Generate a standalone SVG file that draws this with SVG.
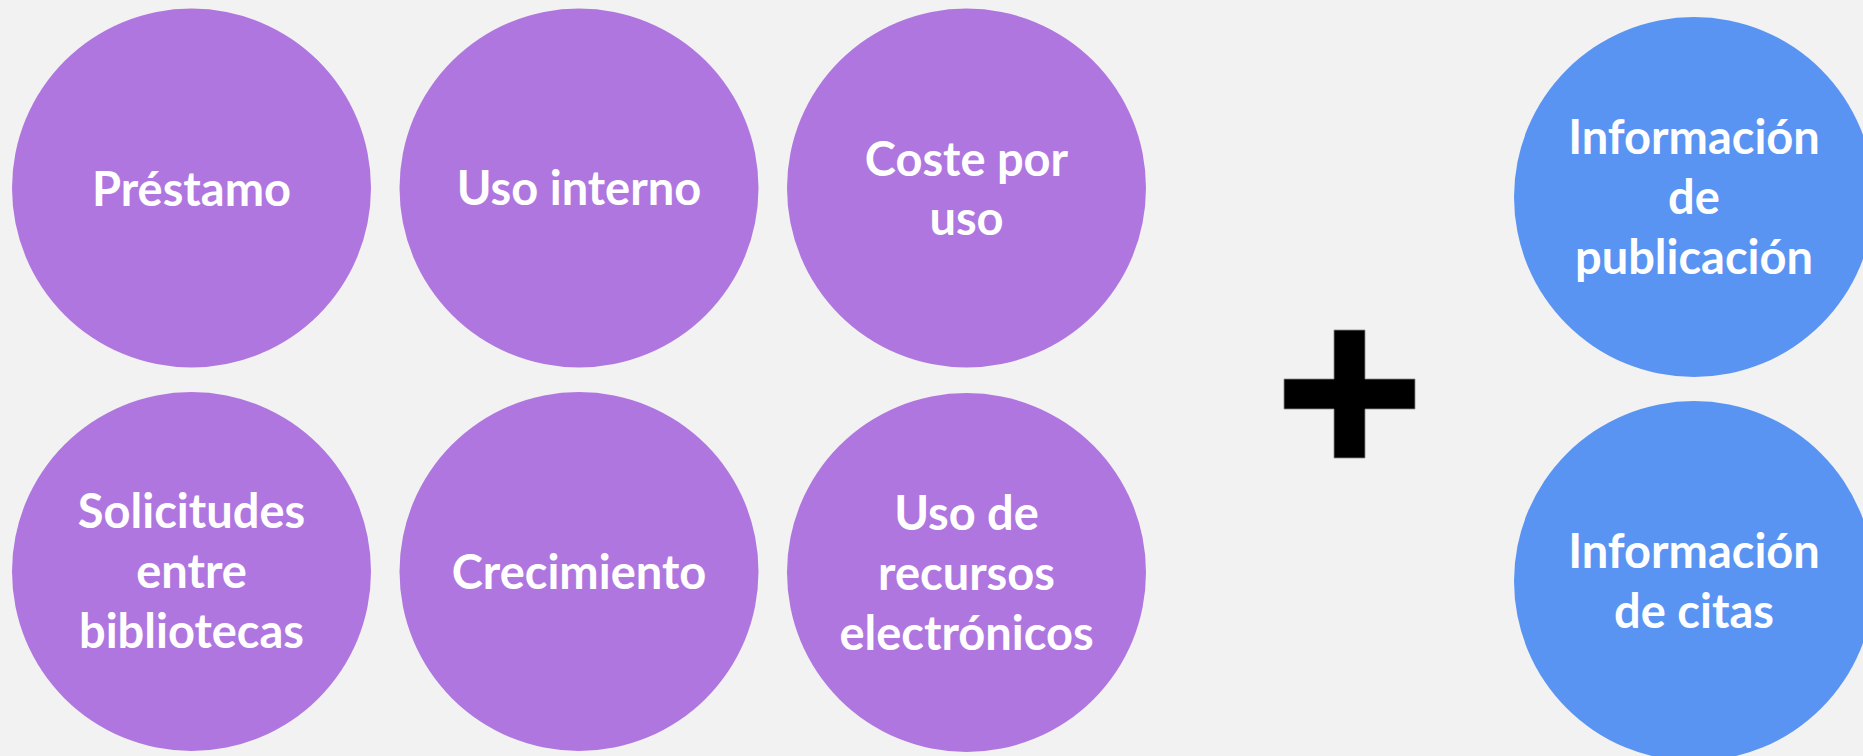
<svg xmlns="http://www.w3.org/2000/svg" width="1863" height="756" viewBox="0 0 1863 756">
<style>
.p{fill:#B076E0}
.b{fill:#5A94F3}
text{font-family:Lato,"Open Sans","Liberation Sans",sans-serif;font-weight:bold;font-size:47px;fill:#FFFFFF;text-anchor:middle}
</style>
<rect x="0" y="0" width="1863" height="756" fill="#F2F2F2"/>
<g id="prestamo"><circle class="p" cx="191.5" cy="188" r="179.5"/><text x="191.5" y="206">Préstamo</text></g>
<g id="uso-interno"><circle class="p" cx="579" cy="188" r="179.5"/><text x="579" y="205">Uso interno</text></g>
<g id="coste-por-uso"><circle class="p" cx="966.5" cy="188" r="179.5"/><text x="966.5" y="176">Coste por</text><text x="966.5" y="235">uso</text></g>
<g id="solicitudes"><circle class="p" cx="191.5" cy="571.5" r="179.5"/><text x="191.5" y="528">Solicitudes</text><text x="191.5" y="588">entre</text><text x="191.5" y="648">bibliotecas</text></g>
<g id="crecimiento"><circle class="p" cx="579" cy="571.5" r="179.5"/><text x="579" y="589">Crecimiento</text></g>
<g id="uso-recursos"><circle class="p" cx="966.5" cy="572.5" r="179.5"/><text x="966.5" y="530">Uso de</text><text x="966.5" y="590">recursos</text><text x="966.5" y="650">electrónicos</text></g>
<g id="plus"><path d="M1334 330H1365V379H1415V409H1365V458H1334V409H1284V379H1334Z" fill="#000000" stroke="#8C8C8C" stroke-width="0.8"/></g>
<g id="info-publicacion"><circle class="b" cx="1694" cy="197" r="180"/><text x="1694" y="154">Información</text><text x="1694" y="214">de</text><text x="1694" y="274">publicación</text></g>
<g id="info-citas"><circle class="b" cx="1694" cy="581" r="180"/><text x="1694" y="568">Información</text><text x="1694" y="628">de citas</text></g>
<g id="connectors"></g>
</svg>
